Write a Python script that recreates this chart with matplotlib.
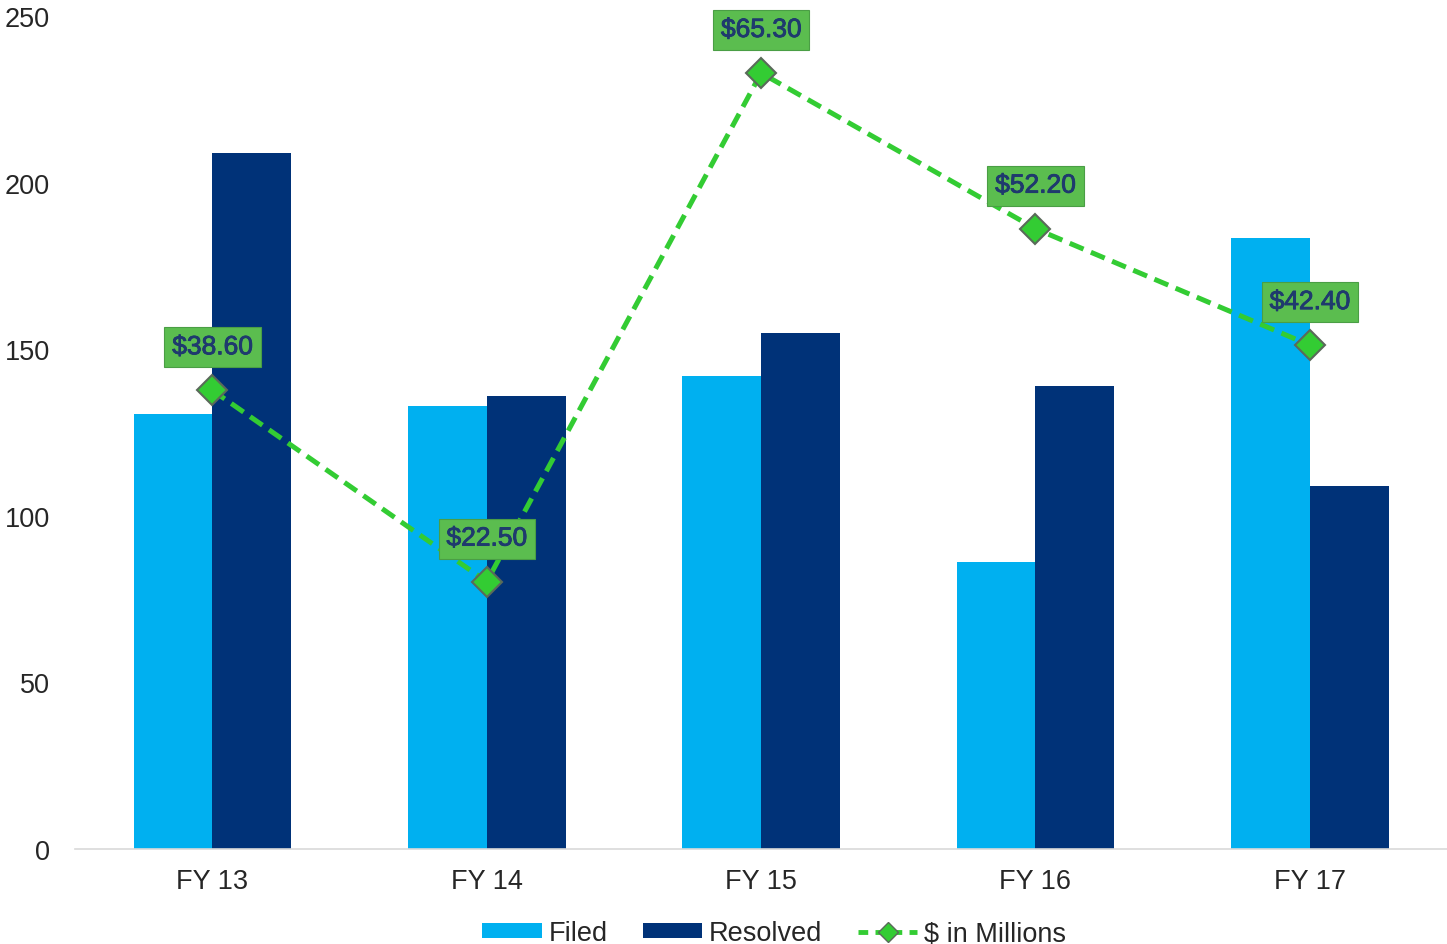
import matplotlib
matplotlib.use("Agg")
import matplotlib.pyplot as plt
import matplotlib.patheffects as pe
from matplotlib.patches import Patch
from matplotlib.lines import Line2D
import numpy as np

CATEGORIES = ["FY 13", "FY 14", "FY 15", "FY 16", "FY 17"]
FILED = [130.5, 133, 142, 86, 183.5]
RESOLVED = [209, 136, 155, 139, 109]
MILLIONS = [38.6, 22.5, 65.3, 52.2, 42.4]
MILLION_LABELS = ["$38.60", "$22.50", "$65.30", "$52.20", "$42.40"]
Y_TICKS = [0, 50, 100, 150, 200, 250]

FILED_COLOR = "#00B0F0"
RESOLVED_COLOR = "#003278"
LINE_COLOR = "#33CC33"
LABEL_TEXT = "#1F3A6E"

plt.rcParams["font.family"] = ["Liberation Sans", "DejaVu Sans"]

fig = plt.figure(figsize=(14.47, 9.45), dpi=100)
ax = fig.add_axes([0.052, 0.1005, 0.948, 0.8815])

x = np.arange(len(CATEGORIES))
w = 0.2875
ax.bar(x - w / 2, FILED, width=w, color=FILED_COLOR, zorder=2)
ax.bar(x + w / 2, RESOLVED, width=w, color=RESOLVED_COLOR, zorder=2)

ax.set_xlim(-0.5, 4.5)
ax.set_ylim(0, 250)
ax.set_yticks(Y_TICKS)
ax.set_xticks(x)
ax.set_xticklabels(CATEGORIES)
ax.tick_params(axis="both", length=0, labelsize=19.5, colors="#262626")
ax.tick_params(axis="y", pad=18)
ax.tick_params(axis="x", pad=14)
for s in ["top", "right", "left"]:
    ax.spines[s].set_visible(False)
ax.spines["bottom"].set_color("#D9D9D9")
ax.spines["bottom"].set_linewidth(1.2)
ax.spines["bottom"].set_zorder(3)

ax2 = ax.twinx()
ax2.set_ylim(0, 70.1)
ax2.axis("off")
ax2.plot(x, MILLIONS, color=LINE_COLOR, linestyle=(0, (3, 1.6)), linewidth=3.6,
         marker="D", markersize=15, markerfacecolor=LINE_COLOR,
         markeredgecolor="#5A6A5A", markeredgewidth=1.5, zorder=4)

for xi, v, lab in zip(x, MILLIONS, MILLION_LABELS):
    t = ax2.annotate(lab, (xi, v), xytext=(0, 31), textcoords="offset points",
                     ha="center", va="center", fontsize=19, color=LABEL_TEXT,
                     zorder=5,
                     bbox=dict(boxstyle="square,pad=0.3", facecolor="#5BBD4F",
                               edgecolor="#4A9E45", linewidth=0.8))
    t.set_path_effects([pe.SimpleLineShadow(offset=(1, -1), shadow_color="#1E5E1E",
                                            alpha=0.5),
                        pe.withStroke(linewidth=0.6, foreground=LABEL_TEXT),
                        pe.Normal()])

handles = [
    Patch(facecolor=FILED_COLOR, label="Filed"),
    Patch(facecolor=RESOLVED_COLOR, label="Resolved"),
    Line2D([0], [0], color=LINE_COLOR, linestyle=(0, (2, 1.5)), linewidth=3.5,
           marker="D", markersize=10, markerfacecolor=LINE_COLOR,
           markeredgecolor="#5A6A5A", label="$ in Millions"),
]
fig.legend(handles=handles, loc="lower center", bbox_to_anchor=(0.535, -0.028),
           ncol=3, frameon=False, fontsize=19.5, handlelength=2.2,
           handleheight=0.45, handletextpad=0.25, columnspacing=1.3,
           labelcolor="#262626")

fig.savefig("out.png", dpi=100)
